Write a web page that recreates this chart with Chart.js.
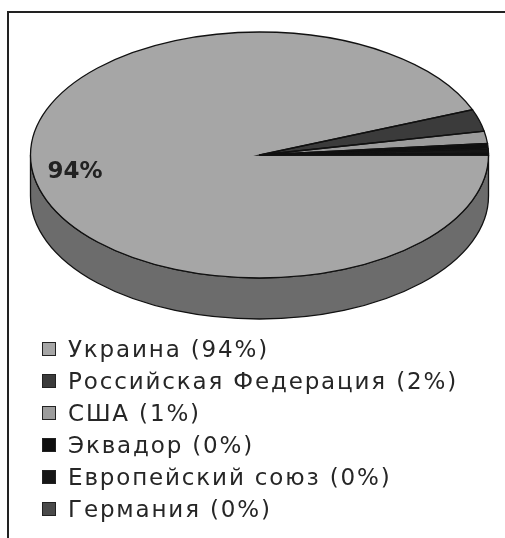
<!DOCTYPE html>
<html>
<head>
<meta charset="utf-8">
<script src="https://cdn.jsdelivr.net/npm/chart.js@4.4.0/dist/chart.umd.min.js"></script>
<style>
  body { margin: 0; background: #fff; width: 505px; height: 538px; overflow: hidden; position: relative; font-family: "DejaVu Sans", sans-serif; }
  #frame { position: absolute; left: 7px; top: 11px; width: 600px; height: 600px; border-left: 2px solid #222; border-top: 2px solid #222; }
  #pie { position: absolute; left: 0; top: 0; }
  #legend { position: absolute; left: 42px; top: 333px; list-style: none; margin: 0; padding: 0; }
  #legend li { height: 32px; display: flex; align-items: center; font-size: 23px; letter-spacing: 1.85px; color: #262626; white-space: nowrap; }
  #legend .box { width: 12px; height: 12px; border: 1px solid #222; margin-right: 12px; flex: none; }
</style>
</head>
<body>
<div id="frame"></div>
<canvas id="pie" width="505" height="538"></canvas>
<ul id="legend"></ul>
<script>
// --- data ---
const countries = ['Украина', 'Российская Федерация', 'США', 'Эквадор', 'Европейский союз', 'Германия'];
const shares = [94.0, 2.9, 1.6, 0.7, 0.6, 0.2];
const shareLabels = ['94%', '2%', '1%', '0%', '0%', '0%'];
const sliceColors = ['#a6a6a6', '#3b3b3b', '#9c9c9c', '#0f0f0f', '#161616', '#4a4a4a'];

// --- 3d look ---
const TARGET_X = 259.5, TARGET_Y = 155;
const RADIUS = 229;
const TILT = 123 / 229;
const DEPTH = 41;

function darken(hex) {
    const n = parseInt(hex.slice(1), 16);
    const f = c => Math.round(c * 0.65);
    return `rgb(${f(n >> 16)},${f((n >> 8) & 255)},${f(n & 255)})`;
}

function applyTilt(ctx, cx, cy) {
    ctx.translate(TARGET_X, TARGET_Y);
    ctx.scale(1, TILT);
    ctx.translate(-cx, -cy);
}

const tiltPlugin = {
    id: 'tilt3d',
    beforeDatasetsDraw(chart) {
        const ctx = chart.ctx;
        const arcs = chart.getDatasetMeta(0).data;
        const cx = arcs[0].x, cy = arcs[0].y;
        const dz = DEPTH / TILT;
        // side walls, only front half is visible
        arcs.forEach((arc, i) => {
            [[0, Math.PI], [2 * Math.PI, 3 * Math.PI]].forEach(([lo, hi]) => {
                const a = Math.max(arc.startAngle, lo), b = Math.min(arc.endAngle, hi);
                if (b <= a) return;
                const r = arc.outerRadius;
                ctx.save();
                applyTilt(ctx, cx, cy);
                ctx.beginPath();
                ctx.arc(cx, cy, r, a, b);
                ctx.lineTo(cx + Math.cos(b) * r, cy + dz + Math.sin(b) * r);
                ctx.arc(cx, cy + dz, r, b, a, true);
                ctx.closePath();
                ctx.restore();
                ctx.fillStyle = darken(sliceColors[i]);
                ctx.fill();
                ctx.strokeStyle = '#111';
                ctx.lineWidth = 1.3;
                ctx.stroke();
            });
        });
        ctx.save();
        applyTilt(ctx, cx, cy);
    },
    afterDatasetsDraw(chart) {
        const ctx = chart.ctx;
        ctx.restore();
        const arcs = chart.getDatasetMeta(0).data;
        const cx = arcs[0].x, cy = arcs[0].y;
        // outlines
        arcs.forEach(arc => {
            ctx.save();
            applyTilt(ctx, cx, cy);
            ctx.beginPath();
            ctx.moveTo(cx, cy);
            ctx.arc(cx, cy, arc.outerRadius, arc.startAngle, arc.endAngle);
            ctx.closePath();
            ctx.restore();
            ctx.strokeStyle = '#111';
            ctx.lineWidth = 1.3;
            ctx.stroke();
        });
        // percent label on big slices
        arcs.forEach((arc, i) => {
            if (shares[i] < 10) return;
            const mid = (arc.startAngle + arc.endAngle) / 2;
            const r = arc.outerRadius * 0.82;
            ctx.font = 'bold 23px "DejaVu Sans"';
            ctx.fillStyle = '#222';
            ctx.textAlign = 'center';
            ctx.textBaseline = 'middle';
            ctx.fillText(shareLabels[i], TARGET_X + Math.cos(mid) * r, TARGET_Y - 2 + Math.sin(mid) * r * TILT);
        });
    }
};

const chart = new Chart(document.getElementById('pie'), {
    type: 'pie',
    data: {
        labels: countries,
        datasets: [{
            data: shares,
            backgroundColor: sliceColors,
            borderWidth: 0,
            clip: false
        }]
    },
    options: {
        responsive: false,
        animation: false,
        devicePixelRatio: 1,
        rotation: 90,
        radius: RADIUS,
        events: [],
        layout: { padding: 0 },
        plugins: {
            legend: { display: false },
            tooltip: { enabled: false }
        }
    },
    plugins: [tiltPlugin]
});

// html legend from the chart's own legend items
const legendEl = document.getElementById('legend');
Chart.overrides.pie.plugins.legend.labels.generateLabels(chart).forEach((item, i) => {
    const li = document.createElement('li');
    const box = document.createElement('span');
    box.className = 'box';
    box.style.background = item.fillStyle;
    li.appendChild(box);
    li.appendChild(document.createTextNode(`${item.text} (${shareLabels[i]})`));
    legendEl.appendChild(li);
});
</script>
</body>
</html>
